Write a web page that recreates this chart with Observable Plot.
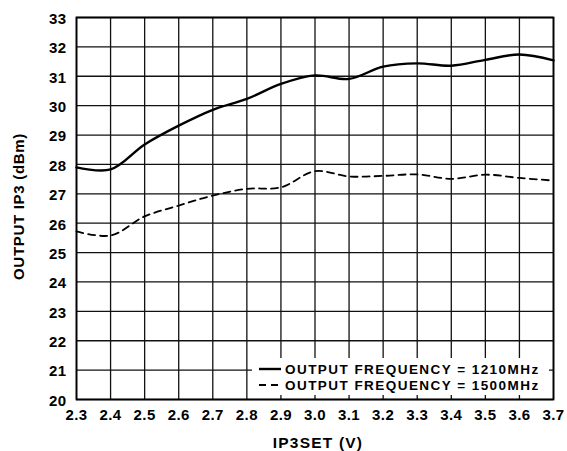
<!DOCTYPE html>
<html>
<head>
<meta charset="utf-8">
<script src="https://cdn.jsdelivr.net/npm/d3@7"></script>
<script src="https://cdn.jsdelivr.net/npm/@observablehq/plot@0.6"></script>
<style>
  html, body { margin: 0; padding: 0; background: #fff; }
  #chart svg { display: block; }
</style>
</head>
<body>
<div id="chart"></div>
<script>
const ip3set = [2.3, 2.4, 2.5, 2.6, 2.7, 2.8, 2.9, 3.0, 3.1, 3.2, 3.3, 3.4, 3.5, 3.6, 3.7];
const ip3_1210 = [27.9, 27.83, 28.68, 29.32, 29.86, 30.23, 30.74, 31.03, 30.91, 31.33, 31.44, 31.36, 31.56, 31.74, 31.54];
const ip3_1500 = [25.72, 25.58, 26.23, 26.6, 26.94, 27.17, 27.22, 27.77, 27.59, 27.61, 27.66, 27.51, 27.65, 27.54, 27.45];
const xTicks = [2.3, 2.4, 2.5, 2.6, 2.7, 2.8, 2.9, 3.0, 3.1, 3.2, 3.3, 3.4, 3.5, 3.6, 3.7];
const yTicks = [20, 21, 22, 23, 24, 25, 26, 27, 28, 29, 30, 31, 32, 33];
const seriesNames = ["OUTPUT FREQUENCY = 1210MHz", "OUTPUT FREQUENCY = 1500MHz"];
const xLabel = "IP3SET (V)";
const yLabel = "OUTPUT IP3 (dBm)";

const d1210 = ip3set.map((x, i) => ({x, y: ip3_1210[i]}));
const d1500 = ip3set.map((x, i) => ({x, y: ip3_1500[i]}));

const font = "'Liberation Sans', Arial, Helvetica, sans-serif";

const plot = Plot.plot({
  width: 567,
  height: 451,
  marginLeft: 76,
  marginRight: 14,
  marginTop: 17,
  marginBottom: 52,
  style: {fontFamily: font, fontSize: "15px", fontWeight: "bold", color: "#000", background: "#fff"},
  x: {domain: [2.3, 3.7], ticks: xTicks, tickFormat: d3.format(".1f"), label: null},
  y: {domain: [20, 33], ticks: yTicks, label: null},
  marks: [
    Plot.gridX(xTicks, {stroke: "#111", strokeOpacity: 1, strokeWidth: 1.3}),
    Plot.gridY(yTicks, {stroke: "#111", strokeOpacity: 1, strokeWidth: 1.3}),
    Plot.axisX(xTicks, {tickSize: 0, tickPadding: 10, tickFormat: d3.format(".1f"), fontSize: 15, fontWeight: "bold", label: null}),
    Plot.axisY(yTicks, {tickSize: 0, tickPadding: 10, fontSize: 15, fontWeight: "bold", dy: 1.5, label: null}),
    Plot.line(d1210, {x: "x", y: "y", curve: "catmull-rom", stroke: "#000", strokeWidth: 2.4}),
    Plot.line(d1500, {x: "x", y: "y", curve: "catmull-rom", stroke: "#000", strokeWidth: 1.8, strokeDasharray: "7,5"}),
    Plot.frame({stroke: "#000", strokeWidth: 1.8})
  ]
});

plot.style.letterSpacing = "0.4px";

const esc = s => s.replace(/&/g, "&amp;").replace(/</g, "&lt;");
const rows = [
  {name: seriesNames[0], dash: "none", w: 2.4, y: 369},
  {name: seriesNames[1], dash: "7,5", w: 1.8, y: 385}
];
let markup = `<g font-family="${font.replace(/'/g, "")}" font-size="13.5" font-weight="bold" text-anchor="start">`;
markup += `<rect x="252" y="358" width="297" height="37" fill="#ffffff" stroke="none"></rect>`;
rows.forEach(r => {
  markup += `<line x1="259" x2="281" y1="${r.y}" y2="${r.y}" stroke="#000" stroke-width="${r.w}" stroke-dasharray="${r.dash}"></line>`;
  markup += `<text x="285" y="${r.y}" dy="0.36em" text-anchor="start" fill="#000" style="letter-spacing:1.45px">${esc(r.name)}</text>`;
});
markup += `</g>`;
markup += `<text x="318" y="448" text-anchor="middle" font-size="15.5" font-weight="bold" fill="#000" style="letter-spacing:1.2px">${esc(xLabel)}</text>`;
markup += `<text transform="translate(24,206.5) rotate(-90)" text-anchor="middle" font-size="15" font-weight="bold" fill="#000" style="letter-spacing:0.7px">${esc(yLabel)}</text>`;
plot.insertAdjacentHTML("beforeend", markup);

document.getElementById("chart").appendChild(plot);
</script>
</body>
</html>
